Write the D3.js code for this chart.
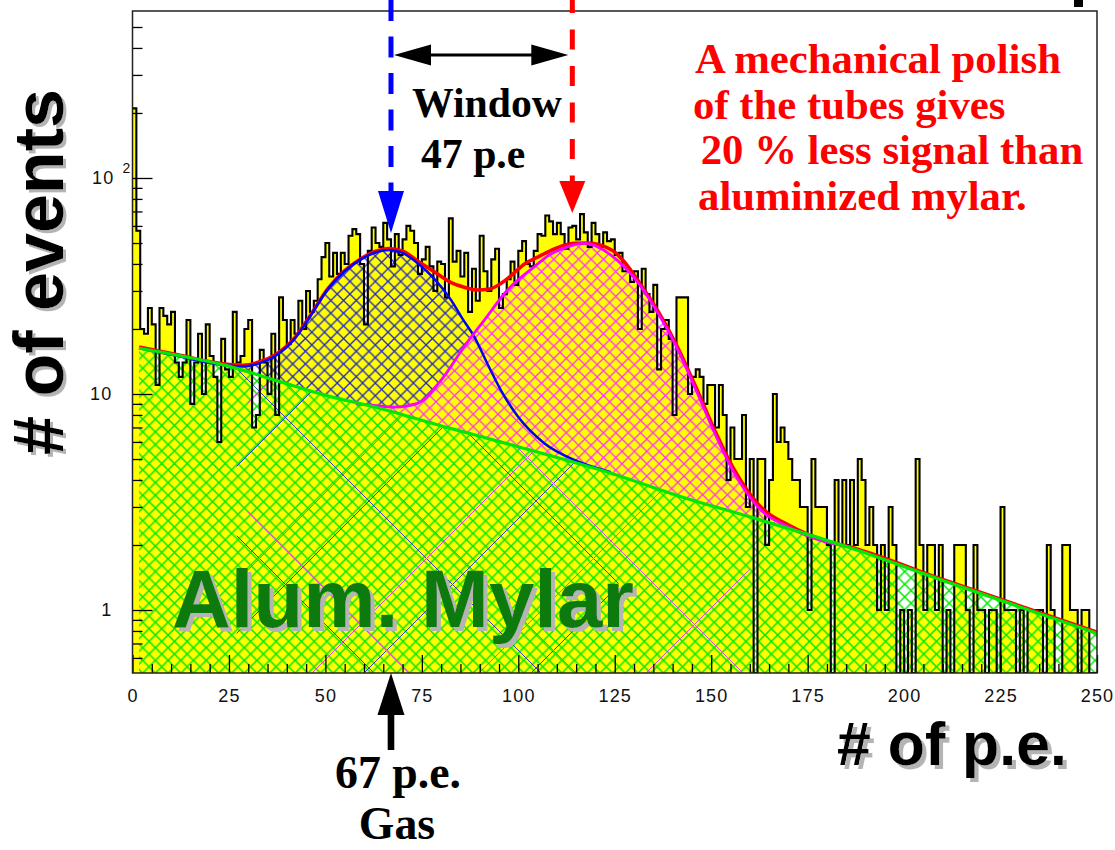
<!DOCTYPE html>
<html><head><meta charset="utf-8">
<script src="https://cdn.jsdelivr.net/npm/d3@7"></script>
<style>body{margin:0;background:#fff}svg{display:block}</style>
</head><body><svg id="c" width="1115" height="850"></svg>
<script>
// ---------------- data ----------------
const binCounts = [
210,57,20,19,25,21,11,25,23,21,
24,14,12,14,22,9,14,19,10,21,
15,12,6,18,13,12,24,14,15,20,
22,7,8,16,14,10,19,8,28,22,
17,22,19,27,20,30,24,27,34,43,
50,35,45,36,45,40,54,58,55,40,
21,46,59,50,48,62,52,39,55,44,
52,60,57,50,36,42,48,39,30,41,
40,28,65,41,46,35,45,24,38,27,
54,37,30,42,47,25,29,34,41,32,
46,51,40,39,46,55,54,67,63,55,
62,55,47,59,60,52,68,56,48,62,
55,48,56,51,52,44,45,37,38,33,
37,20,38,29,24,32,13,20,22,18,
8,28,28,28,10,12,13,12,9,11,
11,7,11,8,4,7,5,5,8,3,
5,0,5,5,2,4,10,6,7,6,
5,4,4,3,3,1,5,3,3,3,
2,0,4,2,4,2,4,2,5,4,
2,3,2,1,2,1,3,2,0,1,
0,1,0,5,2,1,2,2,1,2,
0,1,0,2,2,2,1,0,2,1,
1,0,1,1,0,3,1,1,1,0,
1,0,1,1,1,1,0,2,1,0,
0,2,2,1,1,0,1,1,0,0
];
// background fit (green)
const bgX = [1.7, 11.7, 24.6, 37.6, 50.6, 62.2, 82.2, 100, 124, 142.6, 160, 186, 210, 250];
const bgY = [16.3, 15.1, 13.5, 11.5, 9.8, 8.75, 6.95, 5.7, 4.3, 3.33, 2.7, 1.94, 1.37, 0.78];
// background + gas peak (blue)
const gasX = [1.7, 11.7, 20.3, 28.5, 33, 37, 42, 46, 50.6, 55, 59, 63, 66.4, 70, 73.9, 78, 82.6, 85.6, 88.6, 92, 95.5, 99.8, 106.8, 114.5, 124];
const gasY = [16.3, 15.0, 13.9, 13.4, 13.9, 15.0, 18.0, 22.8, 30.5, 37, 41.8, 45.2, 46.4, 45, 40.3, 34.5, 27.2, 22.2, 18.4, 13.8, 10.4, 7.9, 5.9, 4.95, 4.35];
// background + mylar peak (magenta)
const myX = [58, 61, 67.9, 73.9, 80, 86, 91.2, 97.2, 104.2, 108, 112.8, 117.1, 124, 131.8, 136, 140.5, 145.7, 150.9, 156, 162.1, 170.7, 179.4, 186];
const myY = [9.0, 8.9, 8.7, 9.05, 11.6, 16.6, 22, 30.3, 38.9, 44, 48, 49.9, 44, 31.4, 24, 17.2, 10.8, 6.6, 4.3, 3.0, 2.39, 2.07, 1.96];
// total fit (red)
const totX = [1.7, 11.7, 20.3, 28.5, 33, 37, 42, 46, 50.6, 55, 59, 63, 66.4, 70, 73.9, 78, 82.6, 86, 89.5, 92.5, 95.5, 98.5, 101.6, 105, 108.5, 111.5, 114.5, 118, 124.5, 131.8, 140.5, 145.7, 150.9, 156, 162.1, 170.7, 179.4, 186, 210, 250];
const totY = [16.5, 15.2, 14.1, 13.6, 14.1, 15.2, 18.2, 23.0, 30.7, 37.3, 42.1, 45.8, 47.2, 46, 41.3, 37, 32.8, 31.2, 30.3, 30.6, 32.5, 35.8, 40, 43, 46.2, 48.6, 49.9, 50, 46, 32, 17.6, 11.1, 6.8, 4.45, 3.1, 2.44, 2.1, 1.96, 1.385, 0.79];
const xTickMajor = [0, 25, 50, 75, 100, 125, 150, 175, 200, 225, 250];
const xTickMinor = d3.range(0, 251, 5).filter(v => v % 25 !== 0);
const yTickMajor = [1, 10, 100];
const yTickLabels = ["1", "10", "10"];
const yTickMinor = [0.6,0.7,0.8,0.9,2,3,4,5,6,7,8,9,20,30,40,50,60,70,80,90,200,300,400,500];
const gasPeak = 67;      // p.e.
const windowPE = 47;     // p.e.
const noteLines = ["A mechanical polish", "of the tubes gives", " 20 % less signal than", "aluminized mylar."];

// ---------------- layout ----------------
const svg = d3.select("#c");
const L = 132.5, R = 1097, T = 11, B = 673;
const x = d3.scaleLinear().domain([0, 250]).range([L, R]);
const y = d3.scaleLog().domain([0.511, 593]).range([B, T]);
const yMin = 0.511;
const defs = svg.append("defs");

function hatch(id, P, color, w, ox, oy) {
  const p = defs.append("pattern").attr("id", id).attr("patternUnits", "userSpaceOnUse")
    .attr("width", P).attr("height", P).attr("x", ox || 0).attr("y", oy || 0);
  p.append("path").attr("d", `M-3,-3L${P+3},${P+3}M-3,${P+3}L${P+3},-3`)
    .attr("stroke", color).attr("stroke-width", w).attr("fill", "none");
}
hatch("hG", 12.7, "#00e800", 1.5, 3, 0);
hatch("hB", 12.7, "#2424cc", 1.35, 7, 2);
hatch("hM", 12.4, "#ff2cff", 1.25, 2, 5);
hatch("sB", 167, "#3048c8", 1.0, 35, 0);
hatch("sM", 167, "#d850d8", 1.0, 110, 40);

function shadowFilter(id, dx, dy) {
  const f = defs.append("filter").attr("id", id).attr("x", "-10%").attr("y", "-20%").attr("width", "130%").attr("height", "150%");
  f.append("feOffset").attr("in", "SourceAlpha").attr("dx", dx).attr("dy", dy).attr("result", "off");
  f.append("feFlood").attr("flood-color", "#b4b4b4").attr("result", "col");
  f.append("feComposite").attr("in", "col").attr("in2", "off").attr("operator", "in").attr("result", "sh");
  const m = f.append("feMerge");
  m.append("feMergeNode").attr("in", "sh");
  m.append("feMergeNode").attr("in", "SourceGraphic");
}
shadowFilter("shH", 4, 4);
shadowFilter("shV", -3, 3);

const pts = (xs, ys) => xs.map((v, i) => [v, ys[i]]);
const bg = pts(bgX, bgY), gas = pts(gasX, gasY), my = pts(myX, myY), tot = pts(totX, totY);
const crv = d3.curveMonotoneX;
const line = d3.line().x(d => x(d[0])).y(d => y(d[1])).curve(crv);
const areaDown = d3.area().x(d => x(d[0])).y0(B).y1(d => y(d[1])).curve(crv);
const areaUp = d3.area().x(d => x(d[0])).y0(T - 5).y1(d => y(d[1])).curve(crv);

defs.append("clipPath").attr("id", "cFrame").append("rect").attr("x", L).attr("y", T).attr("width", R - L).attr("height", B - T);
defs.append("clipPath").attr("id", "cAboveG").append("path").attr("d", areaUp(bg));
const cm = defs.append("clipPath").attr("id", "cAboveM");
cm.append("path").attr("d", areaUp(my));
cm.append("rect").attr("x", 0).attr("y", 0).attr("width", x(myX[0])).attr("height", 850);
cm.append("rect").attr("x", x(myX[myX.length - 1])).attr("y", 0).attr("width", 400).attr("height", 850);
defs.append("clipPath").attr("id", "cBelowG").append("path").attr("d", areaDown(bg));

const plot = svg.append("g").attr("clip-path", "url(#cFrame)");

// histogram
const hist = binCounts.map((c, i) => [i, c]);
hist.push([250, binCounts[binCounts.length - 1]]);
const hv = d => y(Math.max(d[1], yMin));
plot.append("path").attr("d", d3.area().x(d => x(d[0])).y0(B).y1(hv).curve(d3.curveStepAfter)(hist))
  .attr("fill", "#ffff00");

// green hatch (background)
plot.append("path").attr("d", areaDown(bg)).attr("fill", "url(#hG)");
// sparse lines under the peaks
const sparse = plot.append("g").attr("clip-path", "url(#cBelowG)");
sparse.append("rect").attr("x", x(27)).attr("y", T).attr("width", x(126) - x(27)).attr("height", B - T).attr("fill", "url(#sB)");
sparse.append("rect").attr("x", x(30)).attr("y", T).attr("width", x(160) - x(30)).attr("height", B - T).attr("fill", "url(#sM)");
// blue hatch
plot.append("g").attr("clip-path", "url(#cAboveG)").append("g").attr("clip-path", "url(#cAboveM)")
  .append("path").attr("d", areaDown(gas)).attr("fill", "url(#hB)");
// magenta hatch
plot.append("g").attr("clip-path", "url(#cAboveG)")
  .append("path").attr("d", areaDown(my)).attr("fill", "url(#hM)");

// histogram outline
plot.append("path").attr("d", d3.line().x(d => x(d[0])).y(hv).curve(d3.curveStepAfter)(hist))
  .attr("fill", "none").attr("stroke", "#000").attr("stroke-width", 2.1);

// fit curves
plot.append("path").attr("d", line(tot)).attr("fill", "none").attr("stroke", "#ff0000").attr("stroke-width", 3.5);
plot.append("path").attr("d", line(gas)).attr("fill", "none").attr("stroke", "#0000ff").attr("stroke-width", 2.5);
plot.append("path").attr("d", line(my)).attr("fill", "none").attr("stroke", "#ff00ff").attr("stroke-width", 2.8);
plot.append("path").attr("d", line(bg)).attr("fill", "none").attr("stroke", "#00e800").attr("stroke-width", 3.2);

// axes
const tickFont = "'Liberation Sans', Arial, sans-serif";
const gx = svg.append("g").attr("transform", `translate(0,${B})`)
  .call(d3.axisBottom(x).tickValues(xTickMajor).tickSize(-18).tickPadding(16).tickFormat(d3.format("d")));
const gx2 = svg.append("g").attr("transform", `translate(0,${B})`)
  .call(d3.axisBottom(x).tickValues(xTickMinor).tickSize(-9).tickFormat(""));
const gy = svg.append("g").attr("transform", `translate(${L},0)`)
  .call(d3.axisLeft(y).tickValues(yTickMajor).tickSize(-20).tickPadding(20).tickFormat((d, i) => yTickLabels[i]));
const gy2 = svg.append("g").attr("transform", `translate(${L},0)`)
  .call(d3.axisLeft(y).tickValues(yTickMinor).tickSize(-10).tickFormat(""));
[gx, gx2, gy, gy2].forEach(g => {
  g.select(".domain").remove();
  g.selectAll("line").attr("stroke", "#000").attr("stroke-width", 1.3);
  g.selectAll("text").attr("font-family", tickFont).attr("font-size", 18).attr("fill", "#111").attr("letter-spacing", 1.2);
});
// superscript on the 10^2 label
gy.selectAll(".tick").filter(d => d === 100).select("text")
  .attr("x", -1).text(null)
  .call(t => { t.append("tspan").text("10"); t.append("tspan").attr("dx", 8).attr("dy", -11).attr("font-size", 14).text("2"); });

svg.append("rect").attr("x", L).attr("y", T).attr("width", R - L).attr("height", B - T)
  .attr("fill", "none").attr("stroke", "#222").attr("stroke-width", 1.5);

// ---------------- titles ----------------
const sans = "'Liberation Sans', Arial, Helvetica, sans-serif";
const serif = "'Liberation Serif', 'Times New Roman', Times, serif";
function fitWidth(t, w) {
  const cur = t.node().getComputedTextLength();
  const fs = parseFloat(t.attr("font-size"));
  t.attr("font-size", fs * w / cur);
  return fs * w / cur;
}
function bigText(g, txt, fs, color, w, filt) {
  const m = g.append("text").attr("x", 0).attr("y", 0).attr("font-family", sans).attr("font-weight", "bold")
    .attr("font-size", fs).attr("fill", color).attr("filter", `url(#${filt})`).text(txt);
  fitWidth(m, w);
}
bigText(svg.append("g").attr("transform", "translate(63,455) rotate(-90)"), "# of events", 70, "#000", 366, "shV");
bigText(svg.append("g").attr("transform", "translate(837,765)"), "# of p.e.", 62, "#000", 230, "shH");
bigText(svg.append("g").attr("transform", "translate(172,627)"), "Alum. Mylar", 80, "#0b7a0b", 462, "shH");

// ---------------- annotations ----------------
const xb = x(gasPeak), xr = x(gasPeak + windowPE);
svg.append("line").attr("x1", xb).attr("x2", xb).attr("y1", 0).attr("y2", 193)
  .attr("stroke", "#0000ff").attr("stroke-width", 5).attr("stroke-dasharray", "21,15.5");
svg.append("path").attr("d", `M${xb - 13},191L${xb + 13},191L${xb},233Z`).attr("fill", "#0000ff");
svg.append("line").attr("x1", xr).attr("x2", xr).attr("y1", 0).attr("y2", 183)
  .attr("stroke", "#ff0000").attr("stroke-width", 5).attr("stroke-dasharray", "20,16.5").attr("stroke-dashoffset", 7);
svg.append("path").attr("d", `M${xr - 13},181L${xr + 13},181L${xr},213Z`).attr("fill", "#ff0000");
// double arrow
const a1 = xb + 3, a2 = xr - 4, ay = 55;
svg.append("line").attr("x1", a1 + 20).attr("x2", a2 - 20).attr("y1", ay).attr("y2", ay).attr("stroke", "#000").attr("stroke-width", 3);
svg.append("path").attr("d", `M${a1},${ay}L${a1 + 37},${ay - 10.5}L${a1 + 37},${ay + 10.5}Z`).attr("fill", "#000");
svg.append("path").attr("d", `M${a2},${ay}L${a2 - 37},${ay - 10.5}L${a2 - 37},${ay + 10.5}Z`).attr("fill", "#000");
// bottom arrow
svg.append("rect").attr("x", xb - 3.3).attr("y", 712).attr("width", 6.6).attr("height", 38).attr("fill", "#000");
svg.append("path").attr("d", `M${xb - 13.5},715L${xb + 13.5},715L${xb},${B}Z`).attr("fill", "#000");

const tw = svg.append("text").attr("x", 412).attr("y", 117).attr("font-family", serif).attr("font-weight", "bold")
  .attr("font-size", 42).attr("fill", "#000").text("Window");
const fsw = fitWidth(tw, 150);
svg.append("text").attr("x", 421).attr("y", 168).attr("font-family", serif).attr("font-weight", "bold")
  .attr("font-size", fsw).attr("fill", "#000").text("47 p.e");

const n0 = svg.append("text").attr("x", 695).attr("y", 73).attr("font-family", serif).attr("font-weight", "bold")
  .attr("font-size", 42).attr("fill", "#ff0000").text(noteLines[0]);
const fsn = fitWidth(n0, 366);
const noteXY = [[693, 119], [690, 164], [698, 210]];
noteLines.slice(1).forEach((s, i) => {
  svg.append("text").attr("x", noteXY[i][0]).attr("y", noteXY[i][1]).attr("font-family", serif).attr("font-weight", "bold")
    .attr("font-size", fsn).attr("fill", "#ff0000").style("white-space", "pre").text(s);
});
// "67 p.e." / "Gas"
const fsg = 45.8;
svg.append("text").attr("x", xb + 7).attr("y", 788).attr("text-anchor", "middle").attr("font-family", serif).attr("font-weight", "bold")
  .attr("font-size", fsg).attr("fill", "#000").text(gasPeak + " p.e.");
svg.append("text").attr("x", xb + 6).attr("y", 839).attr("text-anchor", "middle").attr("font-family", serif).attr("font-weight", "bold")
  .attr("font-size", fsg).attr("fill", "#000").text("Gas");
svg.append("rect").attr("x", 1074).attr("y", 0).attr("width", 9).attr("height", 7).attr("fill", "#000");
</script></body></html>
